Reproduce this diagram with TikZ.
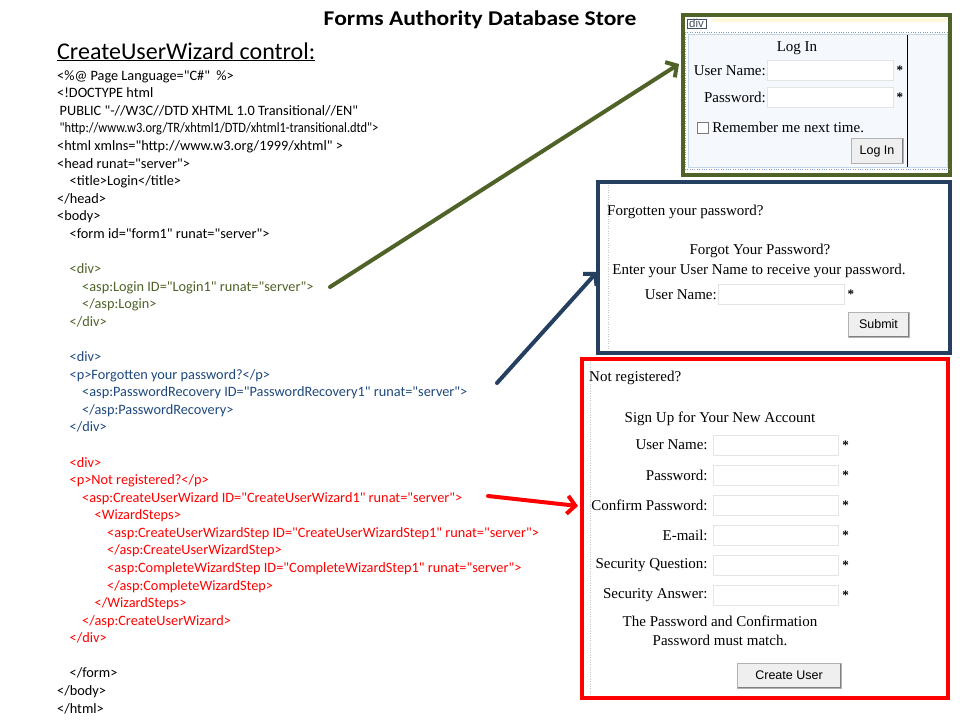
\documentclass[tikz,border=0pt]{standalone}
\usepackage{fontspec}
\setmainfont{Liberation Serif}
\newfontfamily\calibri{Carlito}
\newfontfamily\arial{Liberation Sans}
\usepackage[x11names]{xcolor}
\usetikzlibrary{calc, positioning, arrows.meta}
\definecolor{loginGreen}{HTML}{4F6228}
\definecolor{recoveryBlue}{HTML}{243F60}
\definecolor{recoveryText}{HTML}{1F497D}
\definecolor{wizardRed}{HTML}{FF0000}
\definecolor{divEdge}{HTML}{7F9DB9}
\definecolor{loginFill}{HTML}{F5F8FD}
\definecolor{loginEdge}{HTML}{C6D6EA}
\definecolor{fieldDark}{HTML}{7A7A7A}
\definecolor{fieldLight}{HTML}{E4E4E4}
\definecolor{btnFill}{HTML}{EFEFEF}

\begin{document}
\begin{tikzpicture}[x=1pt, y=-1pt,
  code/.style={anchor=base west, inner sep=0pt, font=\calibri\fontsize{14.3}{16}\selectfont},
  form/.style={inner sep=0pt, font=\fontsize{15}{17}\selectfont},
  field/.style={draw=fieldLight, fill=white, inner sep=0pt, minimum width=126pt, minimum height=20pt,
    path picture={\draw[fieldDark, line width=2pt] (path picture bounding box.south west) -- (path picture bounding box.north west) -- (path picture bounding box.north east);}},
  req/.style={inner sep=0pt, font=\bfseries\fontsize{13}{13}\selectfont},
  button/.style={draw=gray!60, fill=btnFill, inner sep=0pt, minimum height=25pt, font=\arial\fontsize{12.5}{14}\selectfont,
    path picture={\draw[gray, line width=2pt] (path picture bounding box.north east) -- (path picture bounding box.south east) -- (path picture bounding box.south west);}},
  pointer/.style={line width=4pt, line cap=round, -{Straight Barb[length=8pt, width=18pt]}}]
         \useasboundingbox (0,0) rectangle (960,720);
         \fill[white] (0,0) rectangle (960,720);
         \node[inner sep=0pt, font=\calibri\bfseries\fontsize{21}{24}\selectfont] (title) at (480,20) {\scalebox{1.12}[1]{Forms Authority Database Store}};
         \node[anchor=base west, inner sep=0pt, font=\calibri\fontsize{24}{26}\selectfont] (heading) at (57,59) {\underline{CreateUserWizard control:}};
         % page source
         \node[code] (c1) at (57,80.2) {<\%@ Page Language="C\#"\ \ \%>};
         \node[code] (c2) at (57,97.8) {<!DOCTYPE html};
         \node[code] (c3) at (59.5,115.4) {PUBLIC "-//W3C//DTD XHTML 1.0 Transitional//EN"};
         \node[code] (c4) at (59.5,132.9) {\scalebox{0.87}[1]{"http://www.w3.org/TR/xhtml1/DTD/xhtml1-transitional.dtd">}};
         \node[code] (c5) at (57,150.5) {<html xmlns="http://www.w3.org/1999/xhtml" >};
         \node[code] (c6) at (57,168.1) {<head runat="server">};
         \node[code] (c7) at (69.5,185.7) {<title>Login</title>};
         \node[code] (c8) at (57,203.3) {</head>};
         \node[code] (c9) at (57,220.8) {<body>};
         \node[code] (c10) at (69.5,238.4) {<form id="form1" runat="server">};
         \node[code, loginGreen] (c12) at (69.5,273.6) {<div>};
         \node[code, loginGreen] (c13) at (82,291.2) {<asp:Login ID="Login1" runat="server">};
         \node[code, loginGreen] (c14) at (82,308.7) {</asp:Login>};
         \node[code, loginGreen] (c15) at (69.5,326.3) {</div>};
         \node[code, recoveryText] (c17) at (69.5,361.5) {<div>};
         \node[code, recoveryText] (c18) at (69.5,379.1) {<p>Forgotten your password?</p>};
         \node[code, recoveryText] (c19) at (82,396.6) {<asp:PasswordRecovery ID="PasswordRecovery1" runat="server">};
         \node[code, recoveryText] (c20) at (82,414.2) {</asp:PasswordRecovery>};
         \node[code, recoveryText] (c21) at (69.5,431.8) {</div>};
         \node[code, wizardRed] (c23) at (69.5,467.0) {<div>};
         \node[code, wizardRed] (c24) at (69.5,484.5) {<p>Not registered?</p>};
         \node[code, wizardRed] (c25) at (82,502.1) {<asp:CreateUserWizard ID="CreateUserWizard1" runat="server">};
         \node[code, wizardRed] (c26) at (94.5,519.7) {<WizardSteps>};
         \node[code, wizardRed] (c27) at (107,537.3) {<asp:CreateUserWizardStep ID="CreateUserWizardStep1" runat="server">};
         \node[code, wizardRed] (c28) at (107,554.9) {</asp:CreateUserWizardStep>};
         \node[code, wizardRed] (c29) at (107,572.4) {<asp:CompleteWizardStep ID="CompleteWizardStep1" runat="server">};
         \node[code, wizardRed] (c30) at (107,590.0) {</asp:CompleteWizardStep>};
         \node[code, wizardRed] (c31) at (94.5,607.6) {</WizardSteps>};
         \node[code, wizardRed] (c32) at (82,625.2) {</asp:CreateUserWizard>};
         \node[code, wizardRed] (c33) at (69.5,642.8) {</div>};
         \node[code] (c35) at (69.5,677.9) {</form>};
         \node[code] (c36) at (57,695.5) {</body>};
         \node[code] (c37) at (57,713.1) {</html>};
         % login control
         \filldraw[line width=4pt, draw=loginGreen, fill=white] (683,15) rectangle (950,175);
         \fill[Cornsilk1] (711,18) rectangle (947,22);
         \node[draw=divEdge, anchor=north west, inner xsep=2pt, inner ysep=0.5pt, font=\arial\fontsize{11.5}{12}\selectfont, divEdge!50!black] (divTab) at (687,18.5) {div};
         \draw[divEdge, dotted] (685,32) -- (949,32) (685,32) -- (685,169) -- (949,169);
         \filldraw[draw=loginEdge, fill=loginFill] (688,34) rectangle (947,167);
         \draw[black, line width=1pt] (907,35) -- (907,167);
         \node[form] (loginHead) at (797,48) {Log In};
         \node[field, anchor=north west] (loginUser) at (767,60) {};
         \node[form, left=1pt of loginUser] (loginUserLbl) {User Name:};
         \node[req, right=3pt of loginUser] (loginUserReq) {*};
         \node[field, anchor=north west] (loginPass) at (767,87) {};
         \node[form, left=1pt of loginPass] (loginPassLbl) {Password:};
         \node[req, right=3pt of loginPass] (loginPassReq) {*};
         \node[draw=fieldDark, fill=white, minimum size=11pt, inner sep=0pt] (loginCheck) at (702.5,127.5) {};
         \node[form, right=4pt of loginCheck] (loginRemember) {Remember me next time.};
         \node[button, minimum width=52pt] (loginBtn) at (877,151) {Log In};
         % password recovery control
         \filldraw[line width=4pt, draw=recoveryBlue, fill=white] (598,182) rectangle (950,353);
         \draw[gray!45, dotted] (608,185) -- (608,350);
         \node[form, anchor=west] (recoveryHead) at (607,212) {Forgotten your password?};
         \node[form] (recoveryTitle) at (760,251) {Forgot Your Password?};
         \node[form] (recoveryHint) at (759,271) {Enter your User Name to receive your password.};
         \node[field, anchor=north west] (recoveryUser) at (718,284) {};
         \node[form, left=1pt of recoveryUser] (recoveryUserLbl) {User Name:};
         \node[req, right=3pt of recoveryUser] (recoveryUserReq) {*};
         \node[button, minimum width=61pt] (recoveryBtn) at (878.5,324.5) {Submit};
         % create user wizard control
         \filldraw[line width=4pt, draw=wizardRed, fill=white] (582,359) rectangle (948,698);
         \draw[gray!45, dotted] (590,362) -- (590,695);
         \node[form, anchor=west] (wizardHead) at (589,378) {Not registered?};
         \node[form] (wizardTitle) at (720,419) {Sign Up for Your New Account};
         \node[field, minimum width=125pt] (wizUser) at (775.5,445) {};
         \node[form, left=5pt of wizUser] (wizUserLbl) {User Name:};
         \node[req, right=4pt of wizUser] (wizUserReq) {*};
         \node[field, minimum width=125pt] (wizPass) at (775.5,475) {};
         \node[form, left=5pt of wizPass] (wizPassLbl) {Password:};
         \node[req, right=4pt of wizPass] (wizPassReq) {*};
         \node[field, minimum width=125pt] (wizConfirm) at (775.5,505) {};
         \node[form, left=5pt of wizConfirm] (wizConfirmLbl) {Confirm Password:};
         \node[req, right=4pt of wizConfirm] (wizConfirmReq) {*};
         \node[field, minimum width=125pt] (wizMail) at (775.5,535) {};
         \node[form, left=5pt of wizMail] (wizMailLbl) {E-mail:};
         \node[req, right=4pt of wizMail] (wizMailReq) {*};
         \node[field, minimum width=125pt] (wizQuestion) at (775.5,565) {};
         \node[form, left=5pt of wizQuestion] (wizQuestionLbl) {Security Question:};
         \node[req, right=4pt of wizQuestion] (wizQuestionReq) {*};
         \node[field, minimum width=125pt] (wizAnswer) at (775.5,595) {};
         \node[form, left=5pt of wizAnswer] (wizAnswerLbl) {Security Answer:};
         \node[req, right=4pt of wizAnswer] (wizAnswerReq) {*};
         \node[form, align=center, font=\fontsize{15}{19}\selectfont] (wizardNote) at (720,631) {The Password and Confirmation\\Password must match.};
         \node[button, minimum width=104pt] (wizardBtn) at (789,675.5) {Create User};
         % pointers from the source to the rendered controls
         \coordinate (loginFrom) at (330,287);
         \coordinate (loginTo) at (679,64);
         \coordinate (recoveryFrom) at (497,383);
         \coordinate (recoveryTo) at (597,272);
         \coordinate (wizardFrom) at (488,496);
         \coordinate (wizardTo) at (578,506);
         \draw[pointer, loginGreen] (loginFrom) -- (loginTo);
         \draw[pointer, recoveryBlue] (recoveryFrom) -- (recoveryTo);
         \draw[pointer, wizardRed] (wizardFrom) -- (wizardTo);
       \end{tikzpicture}
\end{document}
